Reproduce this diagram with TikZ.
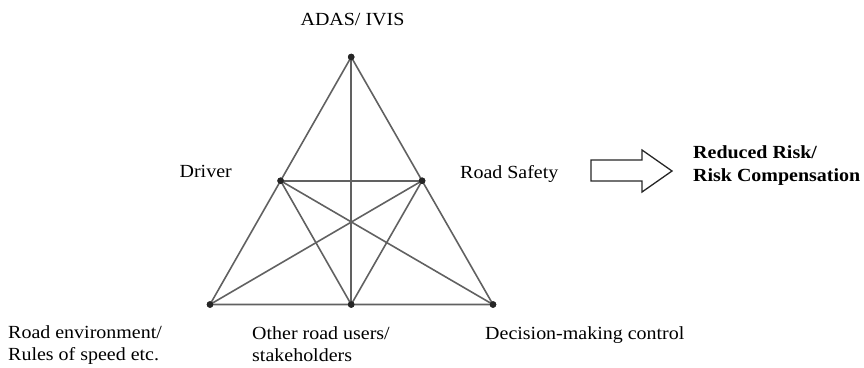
\documentclass[tikz,border=0pt]{standalone}
\usepackage{fontspec}
\setmainfont{Liberation Serif}[FakeStretch=1.08]
\begin{document}
\begin{tikzpicture}[x=1pt,y=-1pt,
  lbl/.style={inner sep=0pt,font=\fontsize{18.5}{22}\selectfont},
  dot/.style={circle,fill=black!85,inner sep=0pt,minimum size=6.5pt},
  edge/.style={draw=black!62,line width=1.6pt},
  blockarrow/.style={draw=black!85,line width=1.3pt,line join=miter}]
\useasboundingbox (0,0) rectangle (864,367);
% vertices
\node[dot] (A)  at (351.2,57) {};
\node[dot] (BL) at (210,304.5) {};
\node[dot] (BR) at (493,304.5) {};
\node[dot] (BM) at (351.2,304.5) {};
\node[dot] (L)  at (280.6,180.75) {};
\node[dot] (R)  at (422.1,180.75) {};
% connectors
\draw[edge] (A.center) -- (L.center) -- (BL.center) -- (BM.center) -- (BR.center) -- (R.center) -- (A.center);
\draw[edge] (A.center) -- (BM.center);
\draw[edge] (L.center) -- (R.center);
\draw[edge] (L.center) -- (BM.center);
\draw[edge] (R.center) -- (BM.center);
\draw[edge] (L.center) -- (BR.center);
\draw[edge] (R.center) -- (BL.center);
% dots on top
\foreach \n in {A,BL,BR,BM,L,R} \fill[black!85] (\n.center) circle (3.3pt);
% labels
\node[lbl,anchor=base] (tA) at (352.5,25) {ADAS/ IVIS};
\node[lbl,anchor=base east] (tL) at (232,177) {Driver};
\node[lbl,anchor=base west] (tR) at (460,178) {Road Safety};
\node[lbl,anchor=base west,align=left] (tBL) at (8,360.5) {Road environment/\\Rules of speed etc.};
\node[lbl,anchor=base west,align=left] (tBM) at (252,361.5) {Other road users/\\stakeholders};
\node[lbl,anchor=base west] (tBR) at (485,339) {Decision-making control};
\node[lbl,anchor=base west,align=left,font=\fontsize{18.5}{22.5}\selectfont\bfseries] (res) at (693,181) {Reduced Risk/\\Risk Compensation};
% block arrow
\draw[blockarrow] (591,160) -- (642,160) -- (642,150) -- (672,171) -- (642,192) -- (642,181) -- (591,181) -- cycle;
\end{tikzpicture}
\end{document}
